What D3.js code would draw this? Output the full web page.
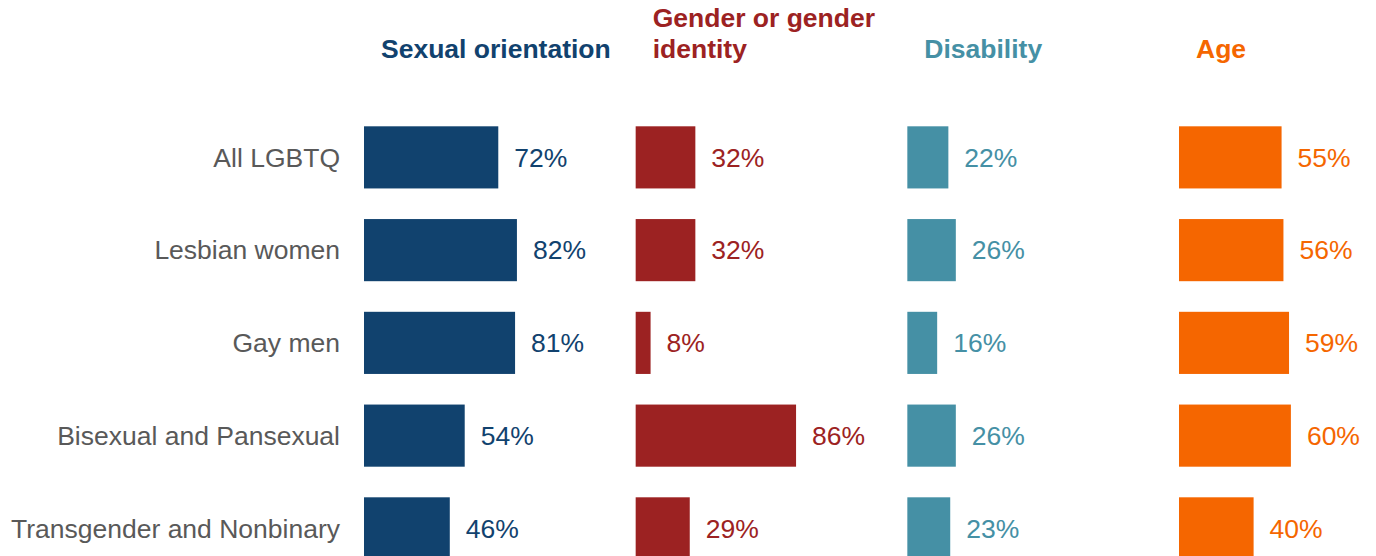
<!DOCTYPE html>
<html>
<head>
<meta charset="utf-8">
<script src="https://cdn.jsdelivr.net/npm/d3@7"></script>
<style>
  body { margin: 0; background: #fff; }
  text { font-family: "Liberation Sans", Arial, sans-serif; }
</style>
</head>
<body>
<svg id="chart" width="1376" height="556"></svg>
<script>
var categories = ["All LGBTQ", "Lesbian women", "Gay men", "Bisexual and Pansexual", "Transgender and Nonbinary"];
var panelTitles = [["Sexual orientation"], ["Gender or gender", "identity"], ["Disability"], ["Age"]];
var panelColors = ["#11426e", "#9c2222", "#4590a5", "#f56600"];
var sexualOrientation = [72, 82, 81, 54, 46];
var genderIdentity = [32, 32, 8, 86, 29];
var disability = [22, 26, 16, 26, 23];
var age = [55, 56, 59, 60, 40];
var series = [sexualOrientation, genderIdentity, disability, age];

var svg = d3.select("#chart");
var fontSize = "26.5px";

var panelX = d3.scalePoint()
  .domain(d3.range(series.length))
  .range([364, 1179]);

var x = d3.scaleLinear().domain([0, 100]).range([0, 186.5]);

var y = d3.scaleBand()
  .domain(categories)
  .range([111, 482 + 92.75])
  .paddingInner(0.33)
  .paddingOuter(0.165);

// category labels
svg.selectAll(".cat")
  .data(categories)
  .enter().append("text")
  .attr("class", "cat")
  .attr("x", 340)
  .attr("y", function(d) { return y(d) + y.bandwidth() / 2; })
  .attr("dy", "0.35em")
  .attr("text-anchor", "end")
  .attr("fill", "#595959")
  .style("font-size", fontSize)
  .text(function(d) { return d; });

series.forEach(function(vals, i) {
  var g = svg.append("g")
    .attr("transform", "translate(" + panelX(i) + ",0)");

  var title = g.append("text")
    .attr("x", 17)
    .attr("y", panelTitles[i].length > 1 ? 27 : 58)
    .attr("fill", panelColors[i])
    .style("font-size", fontSize)
    .style("font-weight", "bold");
  title.selectAll("tspan")
    .data(panelTitles[i])
    .enter().append("tspan")
    .attr("x", 17)
    .attr("dy", function(d, j) { return j === 0 ? 0 : 31; })
    .text(function(d) { return d; });

  g.selectAll("rect")
    .data(vals)
    .enter().append("rect")
    .attr("x", 0)
    .attr("y", function(d, j) { return y(categories[j]); })
    .attr("width", function(d) { return x(d); })
    .attr("height", y.bandwidth())
    .attr("fill", panelColors[i]);

  g.selectAll(".val")
    .data(vals)
    .enter().append("text")
    .attr("class", "val")
    .attr("x", function(d) { return x(d) + 16; })
    .attr("y", function(d, j) { return y(categories[j]) + y.bandwidth() / 2; })
    .attr("dy", "0.35em")
    .attr("fill", panelColors[i])
    .style("font-size", fontSize)
    .text(function(d) { return d + "%"; });
});
</script>
</body>
</html>
